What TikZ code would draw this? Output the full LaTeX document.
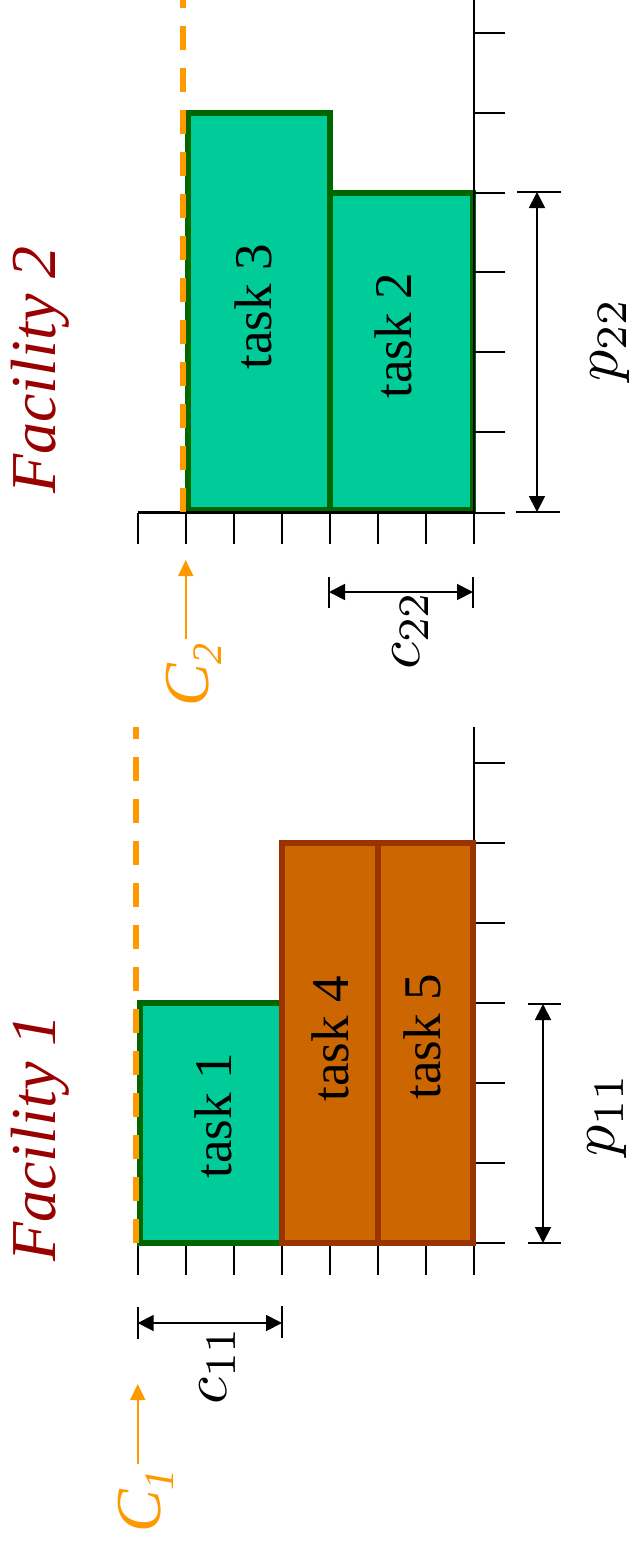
\documentclass[tikz,border=0pt]{standalone}
\usepackage{graphicx}
\usepackage{fontspec}
\setmainfont{Liberation Serif}
\usetikzlibrary{arrows.meta}
\definecolor{taskgreen}{HTML}{00CC99}
\definecolor{taskgreenborder}{HTML}{006600}
\definecolor{taskorange}{HTML}{CC6600}
\definecolor{taskorangeborder}{HTML}{993300}
\definecolor{deadorange}{HTML}{FF9900}
\definecolor{facred}{HTML}{990000}
\newcommand{\bigmath}[1]{\scalebox{3.1}{\fontsize{10}{12}\selectfont$#1$}}
\begin{document}
\begin{tikzpicture}[x=0.5pt,y=-0.5pt,
  axisline/.style={line width=1.25pt,black},
  tickline/.style={line width=1pt,black},
  greentask/.style={draw=taskgreenborder,fill=taskgreen,line width=2.8pt},
  orangetask/.style={draw=taskorangeborder,fill=taskorange,line width=2.8pt},
  deadline/.style={draw=deadorange,line width=3pt,dash pattern=on 12pt off 9pt},
  dimline/.style={line width=0.9pt,{Triangle[length=8pt,width=8pt]}-{Triangle[length=8pt,width=8pt]}},
  dimbar/.style={line width=1pt},
  carrow/.style={draw=deadorange,line width=1pt,-{Triangle[length=8pt,width=7.5pt]},deadorange},
  tasklabel/.style={rotate=90,inner sep=0pt,font=\fontsize{26.5}{26.5}\selectfont},
  faclabel/.style={rotate=90,inner sep=0pt,text=facred,font=\fontsize{32}{32}\selectfont\itshape},
  mathlabel/.style={rotate=90,inner sep=0pt},
  clabel/.style={rotate=90,inner sep=0pt,text=deadorange,font=\fontsize{32}{32}\selectfont\itshape}]
\useasboundingbox (0,0) rectangle (633,1547);

% ---------------- Facility 1 ----------------
\draw[axisline] (137.7,1243) -- (474,1243);
\draw[axisline] (474,1243) -- (474,727);
\foreach \x in {137.7,186,234,282,330,378,426,474}
  \draw[tickline] (\x,1243) -- (\x,1275);
\foreach \y in {763,843,923,1003,1083,1163,1243}
  \draw[tickline] (474,\y) -- (505,\y);
\path[greentask] (140,1003) rectangle (282,1243);
\path[orangetask] (282,843) rectangle (378,1243);
\path[orangetask] (378,843) rectangle (473,1243);
\coordinate (d1a) at (136,1243);
\coordinate (d1b) at (136,727);
\draw[deadline] (d1a) -- (d1b);
\node[tasklabel] (t1) at (213,1116) {task 1};
\node[tasklabel] (t4) at (330,1039) {task 4};
\node[tasklabel] (t5) at (422,1037) {task 5};
% c11
\draw[dimbar] (137.7,1307) -- (137.7,1339);
\draw[dimbar] (282,1306) -- (282,1338);
\coordinate (c11a) at (137.7,1323);
\coordinate (c11b) at (282,1323);
\draw[dimline] (c11a) -- (c11b);
\node[mathlabel] (c11) at (218,1365) {\bigmath{c_{11}}};
% p11
\draw[dimbar] (528,1004) -- (561,1004);
\draw[dimbar] (528,1243) -- (561,1243);
\coordinate (p11a) at (543,1004);
\coordinate (p11b) at (543,1243);
\draw[dimline] (p11a) -- (p11b);
\node[mathlabel] (p11) at (607,1115) {\bigmath{p_{11}}};
% C1
\coordinate (C1tail) at (137.7,1464);
\coordinate (C1tip) at (137.7,1384);
\draw[carrow] (C1tail) -- (C1tip);
\node[clabel] (C1) at (146,1501) {C\raisebox{-6.5pt}{\fontsize{21}{21}\selectfont 1}};
\node[faclabel] (f1) at (40,1138) {Facility 1};

% ---------------- Facility 2 ----------------
\path[greentask] (188,113) rectangle (330,510);
\path[greentask] (330,193) rectangle (473,510);
\draw[axisline] (137.7,512.5) -- (474,512.5);
\draw[axisline] (474,512.5) -- (474,0);
\foreach \x in {137.7,186,234,282,330,378,426,474}
  \draw[tickline] (\x,512.5) -- (\x,544);
\foreach \y in {33,113,193,272,352,432,512.5}
  \draw[tickline] (474,\y) -- (505,\y);
\coordinate (d2a) at (183,512);
\coordinate (d2b) at (183,0);
\draw[deadline] (d2a) -- (d2b);
\node[tasklabel] (t3) at (253,307) {task 3};
\node[tasklabel] (t2) at (393,336) {task 2};
% c22
\draw[dimbar] (329,577) -- (329,608);
\draw[dimbar] (473,577) -- (473,608);
\coordinate (c22a) at (329,592);
\coordinate (c22b) at (473,592);
\draw[dimline] (c22a) -- (c22b);
\node[mathlabel] (c22) at (411,630) {\bigmath{c_{22}}};
% p22
\draw[dimbar] (517,192) -- (561,192);
\draw[dimbar] (516,512) -- (560,512);
\coordinate (p22a) at (537,192);
\coordinate (p22b) at (537,512);
\draw[dimline] (p22a) -- (p22b);
\node[mathlabel] (p22) at (610,340) {\bigmath{p_{22}}};
% C2
\coordinate (C2tail) at (185.7,639);
\coordinate (C2tip) at (185.7,560);
\draw[carrow] (C2tail) -- (C2tip);
\node[clabel] (C2) at (194,675) {C\raisebox{-6.5pt}{\fontsize{21}{21}\selectfont 2}};
\node[faclabel] (f2) at (40,370) {Facility 2};
\end{tikzpicture}
\end{document}
